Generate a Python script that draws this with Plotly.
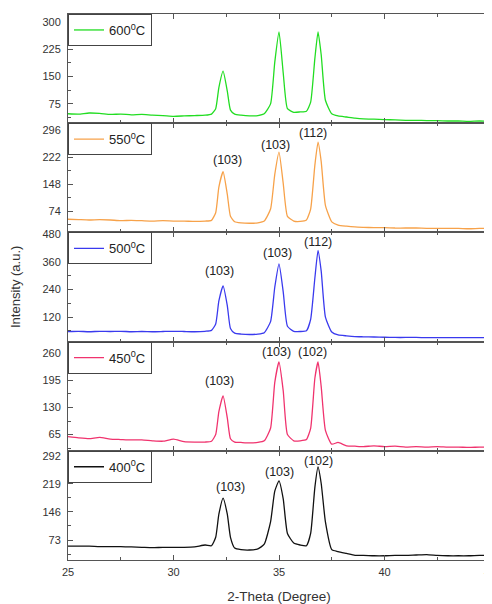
import plotly.graph_objects as go
from plotly.subplots import make_subplots

# 2-theta positions (degrees)
two_theta = [25, 25.5, 26, 26.5, 27, 27.5, 28, 28.5, 29, 29.5, 30, 30.5, 31, 31.5, 31.8,
             32.0, 32.15, 32.35, 32.55, 32.7, 32.9, 33.2, 33.6, 34.0, 34.3, 34.6, 34.8,
             35.0, 35.2, 35.4, 35.7, 36.0, 36.3, 36.5, 36.7, 36.85, 37.0, 37.2, 37.5,
             37.8, 38.2, 38.6, 39, 39.5, 40, 40.5, 41, 41.5, 42, 42.5, 43, 43.5, 44, 44.5, 45]

i600 = [48, 47, 50, 49, 46, 47, 45, 46, 44, 43, 41, 42, 43, 44, 47,
        62, 120, 165, 110, 58, 47, 44, 42, 43, 48, 75, 190,
        273, 160, 62, 52, 53, 55, 80, 200, 273, 210, 85, 48,
        42, 39, 36, 34, 33, 32, 31, 30, 30, 29, 29, 28, 28, 27, 28, 27]

i550 = [52, 51, 50, 51, 50, 48, 49, 48, 47, 48, 47, 47, 46, 47, 49,
        70, 140, 182, 120, 60, 45, 42, 41, 42, 47, 80, 175,
        236, 150, 60, 47, 46, 50, 80, 200, 263, 210, 90, 45,
        36, 33, 31, 30, 29, 29, 28, 28, 28, 27, 27, 27, 27, 26, 27, 27]

i500 = [57, 58, 56, 58, 57, 58, 56, 57, 56, 57, 58, 57, 56, 58, 62,
        90, 190, 256, 170, 70, 50, 46, 44, 46, 52, 100, 250,
        352, 230, 80, 58, 57, 60, 110, 290, 410, 320, 120, 55,
        42, 38, 35, 34, 33, 32, 31, 31, 31, 30, 30, 30, 30, 30, 30, 30]

i450 = [60, 57, 55, 58, 54, 53, 52, 52, 50, 49, 54, 48, 47, 47, 49,
        65, 120, 158, 105, 55, 47, 46, 45, 46, 50, 80, 190,
        239, 170, 65, 50, 50, 53, 80, 200, 239, 180, 75, 42,
        46, 38, 37, 36, 38, 36, 37, 35, 36, 35, 36, 35, 35, 34, 35, 35]

i400 = [57, 57, 57, 56, 56, 56, 55, 54, 53, 54, 54, 54, 55, 60, 58,
        80, 140, 182, 140, 80, 52, 48, 47, 50, 62, 120, 200,
        227, 180, 90, 65, 60, 58, 90, 210, 263, 220, 120, 48,
        43, 38, 33, 33, 32, 32, 33, 33, 34, 35, 33, 32, 32, 32, 33, 33]

series_names = ["600<sup>0</sup>C", "550<sup>0</sup>C", "500<sup>0</sup>C", "450<sup>0</sup>C", "400<sup>0</sup>C"]
series_values = [i600, i550, i500, i450, i400]
series_colors = ["#22dd22", "#f7a24a", "#3a3aee", "#f0336e", "#111111"]

y_ranges = [[22, 322], [16, 315], [13, 489], [26, 288], [21, 305]]
y_ticks = [[75, 150, 225, 300], [74, 148, 222, 296], [120, 240, 360, 480],
           [65, 130, 195, 260], [73, 146, 219, 292]]

x_ticks = [25, 30, 35, 40, 45]

# peak labels per panel (row index, x, y, text)
peak_labels = [
    (2, 32.55, 215, "(103)"), (2, 34.85, 255, "(103)"), (2, 36.6, 288, "(112)"),
    (3, 32.2, 322, "(103)"), (3, 34.95, 401, "(103)"), (3, 36.85, 449, "(112)"),
    (4, 32.2, 194, "(103)"), (4, 34.9, 262, "(103)"), (4, 36.6, 262, "(102)"),
    (5, 32.7, 211, "(103)"), (5, 35.0, 250, "(103)"), (5, 36.85, 279, "(102)"),
]

n = 5
fig = make_subplots(rows=n, cols=1, shared_xaxes=True, vertical_spacing=0)

axis_color = "#555555"
font_fam = "Liberation Sans, Arial, sans-serif"

for i in range(n):
    row = i + 1
    legend_id = "legend" if i == 0 else f"legend{row}"
    fig.add_trace(go.Scatter(x=two_theta, y=series_values[i], mode="lines",
                             name=series_names[i],
                             line=dict(color=series_colors[i], width=1.3,
                                       shape="spline", smoothing=0.5),
                             legend=legend_id), row=row, col=1)
    top = 1 - i / n
    fig.update_layout(**{legend_id: dict(
        x=0.0, xanchor="left", y=top, yanchor="top",
        bordercolor="#444444", borderwidth=1, bgcolor="white",
        font=dict(size=13, color="#222222", family=font_fam),
        itemwidth=30, tracegroupgap=0)})
    fig.update_yaxes(range=y_ranges[i], tickvals=y_ticks[i],
                     ticks="inside", ticklen=5, tickcolor=axis_color,
                     minor=dict(ticks="inside", ticklen=3, dtick=(y_ticks[i][1] - y_ticks[i][0]) / 2,
                                tick0=0, tickcolor=axis_color, showgrid=False),
                     showline=True, linecolor=axis_color, linewidth=1, mirror="allticks",
                     showgrid=False, zeroline=False, automargin=False,
                     ticklabelstandoff=4,
                     tickfont=dict(size=11, color="#333333", family=font_fam),
                     row=row, col=1)
    fig.update_xaxes(range=[25, 45], tickvals=x_ticks,
                     ticks="inside", ticklen=5, tickcolor=axis_color,
                     minor=dict(ticks="inside", ticklen=3, dtick=2.5, tick0=25,
                                tickcolor=axis_color, showgrid=False),
                     showline=True, linecolor=axis_color, linewidth=1, mirror="allticks",
                     showgrid=False, zeroline=False, automargin=False,
                     ticklabeloverflow="allow", ticklabelstandoff=2,
                     tickfont=dict(size=11, color="#333333", family=font_fam),
                     row=row, col=1)

fig.update_xaxes(title=dict(text="2-Theta (Degree)", font=dict(size=13.5, color="#333333", family=font_fam),
                            standoff=17), row=n, col=1)

for (row, xv, yv, txt) in peak_labels:
    fig.add_annotation(x=xv, y=yv, text=txt, showarrow=False,
                       xref=f"x{row}" if row > 1 else "x", yref=f"y{row}" if row > 1 else "y",
                       font=dict(size=12.5, color="#222222", family=font_fam))

fig.add_annotation(x=-0.1256, y=0.5, xref="paper", yref="paper", text="Intensity (a.u.)",
                   textangle=-90, showarrow=False, xanchor="center", yanchor="middle",
                   font=dict(size=13, color="#333333", family=font_fam))

# page body adds an 8px offset, so the figure is sized to the remaining area
fig.update_layout(width=484, height=596,
                  margin=dict(l=60, r=2, t=6, b=44),
                  paper_bgcolor="white", plot_bgcolor="white",
                  showlegend=True)

fig.write_html("out.html")
